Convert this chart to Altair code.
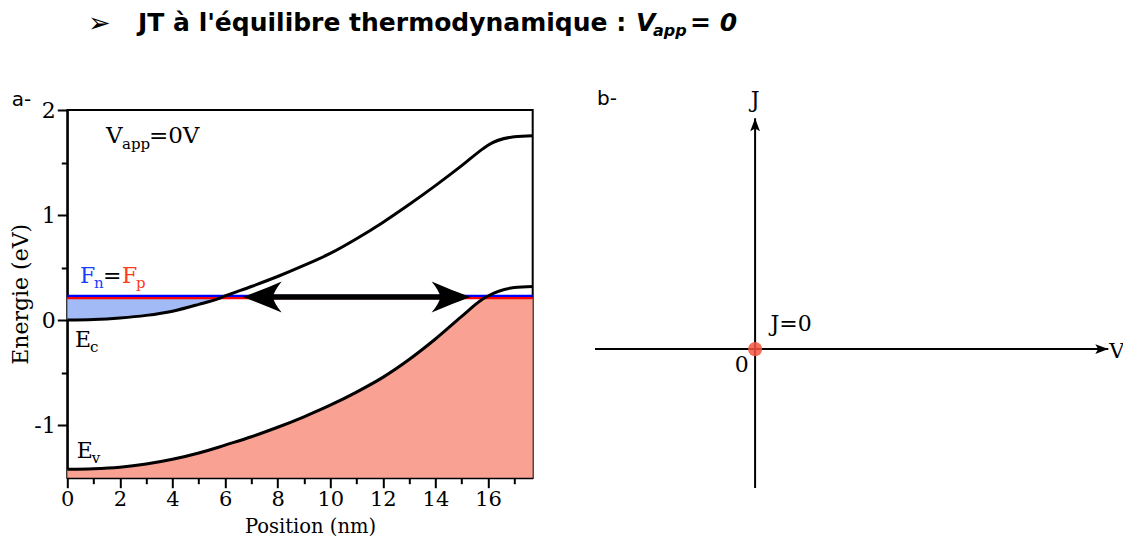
import altair as alt
import pandas as pd

# ---------------- data: panel a (band diagram) ----------------
position_nm = [0, 1, 2, 3, 4, 5, 5.75, 6, 7, 8, 9, 10, 11, 12, 13, 14, 15, 15.8, 16, 17, 17.7]
ec_eV = [0, 0.005, 0.02, 0.045, 0.085, 0.15, 0.205, 0.23, 0.32, 0.415, 0.52, 0.635,
         0.775, 0.93, 1.1, 1.28, 1.47, 1.63, 1.665, 1.745, 1.755]
ev_eV = [-1.42, -1.415, -1.40, -1.37, -1.325, -1.265, -1.21, -1.19, -1.11, -1.02, -0.92,
         -0.81, -0.685, -0.545, -0.375, -0.18, 0.035, 0.2, 0.23, 0.31, 0.32]
fn_eV = 0.23
fp_eV = 0.21
fermi_x = [0, 17.7]
arrow_tips_nm = [6.67, 15.34]
arrow_level_eV = 0.22

x_domain = [0, 17.7]
y_domain = [-1.5, 2]
x_ticks = [0, 2, 4, 6, 8, 10, 12, 14, 16]
x_minor = [1, 3, 5, 7, 9, 11, 13, 15, 17]
y_ticks = [-1, 0, 1, 2]
y_minor = [-0.5, 0.5, 1.5]

# ---------------- data: panel b (J-V axes) ----------------
v_axis = [-1.6, 3.53]
j_axis = [-1.39, 2.31]
op_v = [0]
op_j = [0]

# ---------------- texts ----------------
title_main = "JT à l'équilibre thermodynamique :"
title_v = "V"
title_sub = "app"
title_end = "= 0"
bullet = "➢"

SERIF = "DejaVu Serif"
SANS = "DejaVu Sans"
BLACK = "#000000"
SALMON = "#f9a293"
LIGHTBLUE = "#a2baf6"
BLUE = "#0000ff"
RED = "#ff0000"
BLUE_T = "#1a3cff"
RED_T = "#ff3a1a"

W, H = 465.4, 367.7
PAD_L, PAD_T = 59.3, 102
SVG_W, SVG_H = 1115, 529

XA = alt.Scale(domain=x_domain, nice=False, zero=False)
YA = alt.Scale(domain=y_domain, nice=False, zero=False)
AX = alt.Axis(values=x_ticks, title="Position (nm)", grid=False, labelFlush=False,
              tickSize=10, tickWidth=2, tickColor=BLACK, domainColor=BLACK, domainWidth=2,
              labelFont=SERIF, labelFontSize=21, labelColor=BLACK, labelPadding=1,
              titleFont=SERIF, titleFontSize=19.5, titleFontWeight="normal", titleColor=BLACK,
              titleX=242.7, titleY=54.5, titleBaseline="alphabetic", orient="bottom")
AY = alt.Axis(values=y_ticks, title="Energie (eV)", grid=False, labelFlush=False,
              tickSize=10, tickWidth=2, tickColor=BLACK, domainColor=BLACK, domainWidth=2,
              labelFont=SERIF, labelFontSize=22, labelColor=BLACK, labelPadding=2,
              labelExpr="'' + datum.value",
              titleFont=SERIF, titleFontSize=22, titleFontWeight="normal", titleColor=BLACK,
              titlePadding=1, orient="left")


def xa(field=None, datum=None):
    if field is not None:
        return alt.X(field, type="quantitative", scale=XA, axis=AX)
    return alt.X(datum=datum, type="quantitative", scale=XA, axis=AX)


def ya(field=None, datum=None):
    if field is not None:
        return alt.Y(field, type="quantitative", scale=YA, axis=AY)
    return alt.Y(datum=datum, type="quantitative", scale=YA, axis=AY)


band = pd.DataFrame({"x": position_nm, "ec": ec_eV, "ev": ev_eV})
fermi = pd.DataFrame({"x": fermi_x, "fn": [fn_eV] * len(fermi_x), "fp": [fp_eV] * len(fermi_x)})
shaft = pd.DataFrame({"x": [arrow_tips_nm[0] + 1.0, arrow_tips_nm[1] - 1.0],
                      "y": [arrow_level_eV, arrow_level_eV]})
tip_l = pd.DataFrame({"x": [arrow_tips_nm[0]], "y": [arrow_level_eV]})
tip_r = pd.DataFrame({"x": [arrow_tips_nm[1]], "y": [arrow_level_eV]})
one = pd.DataFrame({"k": [0]})

red_fill = alt.Chart(band).transform_calculate(
    top=f"min(datum.ev, {fp_eV})"
).mark_area(color=SALMON, interpolate="monotone").encode(
    x=xa("x"), y=ya("top"), y2=alt.Y2(datum=y_domain[0]))

blue_fill = alt.Chart(band).transform_calculate(
    top=f"max(datum.ec, {fp_eV})"
).mark_area(color=LIGHTBLUE, interpolate="monotone").encode(
    x=xa("x"), y=ya("ec"), y2="top:Q")

fp_line = alt.Chart(fermi).mark_line(color=RED, strokeWidth=2.2).encode(x=xa("x"), y=ya("fp"))
fn_line = alt.Chart(fermi).mark_line(color=BLUE, strokeWidth=2.2).encode(x=xa("x"), y=ya("fn"))
ec_line = alt.Chart(band).mark_line(color=BLACK, strokeWidth=3, interpolate="monotone").encode(
    x=xa("x"), y=ya("ec"))
ev_line = alt.Chart(band).mark_line(color=BLACK, strokeWidth=3, interpolate="monotone").encode(
    x=xa("x"), y=ya("ev"))

HEAD_L = "M0,0 Q1.0,-0.36 2,-0.8 Q1.6,-0.3 1.55,0 Q1.6,0.3 2,0.8 Q1.0,0.36 0,0 Z"
HEAD_R = "M0,0 Q-1.0,-0.36 -2,-0.8 Q-1.6,-0.3 -1.55,0 Q-1.6,0.3 -2,0.8 Q-1.0,0.36 0,0 Z"

shaft_line = alt.Chart(shaft).mark_line(color=BLACK, strokeWidth=5.5).encode(x=xa("x"), y=ya("y"))
head_l = alt.Chart(tip_l).mark_point(shape=HEAD_L, size=1521, filled=True, color=BLACK,
                                     opacity=1, strokeWidth=0).encode(x=xa("x"), y=ya("y"))
head_r = alt.Chart(tip_r).mark_point(shape=HEAD_R, size=1521, filled=True, color=BLACK,
                                     opacity=1, strokeWidth=0).encode(x=xa("x"), y=ya("y"))


def txt_a(text, x, y, size=22, color=BLACK, dx=0, dy=0, font=SERIF, align="left"):
    return alt.Chart(one).mark_text(text=text, font=font, fontSize=size, color=color,
                                    align=align, baseline="alphabetic", dx=dx, dy=dy).encode(
        x=xa(datum=x), y=ya(datum=y))


texts_a = [
    txt_a("a-", -2.11, 2.04, size=20, font=SANS),
    txt_a("V", 1.47, 1.683, size=23),
    txt_a("app", 1.47, 1.683, size=15, dx=16, dy=6),
    txt_a("=0V", 1.47, 1.683, size=23, dx=43),
    txt_a("F", 0.48, 0.349, color=BLUE_T),
    txt_a("n", 0.48, 0.349, size=15, color=BLUE_T, dx=14, dy=5),
    txt_a("=", 0.48, 0.349, dx=23),
    txt_a("F", 0.48, 0.349, color=RED_T, dx=42),
    txt_a("p", 0.48, 0.349, size=15, color=RED_T, dx=56, dy=5),
    txt_a("E", 0.29, -0.254),
    txt_a("c", 0.29, -0.254, size=15, dx=15, dy=5),
    txt_a("E", 0.36, -1.317),
    txt_a("v", 0.36, -1.317, size=15, dx=15, dy=5),
]

panel_a = alt.layer(red_fill, blue_fill, fp_line, fn_line, ec_line, ev_line,
                    shaft_line, head_l, head_r, *texts_a)

# minor ticks on the same mapping
minor = alt.Chart(pd.DataFrame({"x": x_domain, "y": y_domain})).mark_point(opacity=0).encode(
    x=alt.X("x:Q", scale=XA, axis=alt.Axis(values=x_minor, labels=False, domain=False, grid=False,
                                           tickSize=6, tickWidth=2, tickColor=BLACK, title=None,
                                           orient="bottom")),
    y=alt.Y("y:Q", scale=YA, axis=alt.Axis(values=y_minor, labels=False, domain=False, grid=False,
                                           tickSize=6, tickWidth=2, tickColor=BLACK, title=None,
                                           orient="left")))

# ---------------- panel b ----------------
XB = alt.Scale(domain=v_axis, range=[527.7, 1041], nice=False, zero=False)
YB = alt.Scale(domain=j_axis, range=[378, 8.3], nice=False, zero=False)


def xb(field=None, datum=None):
    if field is not None:
        return alt.X(field, type="quantitative", scale=XB, axis=None)
    return alt.X(datum=datum, type="quantitative", scale=XB, axis=None)


def yb(field=None, datum=None):
    if field is not None:
        return alt.Y(field, type="quantitative", scale=YB, axis=None)
    return alt.Y(datum=datum, type="quantitative", scale=YB, axis=None)


h_axis = pd.DataFrame({"v": v_axis, "j": [0, 0]})
v_line = pd.DataFrame({"v": [0, 0], "j": j_axis})
op = pd.DataFrame({"v": op_v, "j": op_j})

HEAD_RIGHT = "M0,0 L-2,-0.75 L-1.55,0 L-2,0.75 Z"
HEAD_UP = "M0,0 L-0.75,2 L0,1.55 L0.75,2 Z"

hb = alt.Chart(h_axis).mark_line(color=BLACK, strokeWidth=2).encode(x=xb("v"), y=yb("j"))
vb = alt.Chart(v_line).mark_line(color=BLACK, strokeWidth=2).encode(x=xb("v"), y=yb("j"))
h_head = alt.Chart(pd.DataFrame({"v": [v_axis[1]], "j": [0]})).mark_point(
    shape=HEAD_RIGHT, size=169, filled=True, color=BLACK, opacity=1, strokeWidth=0).encode(
    x=xb("v"), y=yb("j"))
v_head = alt.Chart(pd.DataFrame({"v": [0], "j": [j_axis[1]]})).mark_point(
    shape=HEAD_UP, size=169, filled=True, color=BLACK, opacity=1, strokeWidth=0).encode(
    x=xb("v"), y=yb("j"))
dot = alt.Chart(op).mark_circle(size=201, color="#f4553f", opacity=0.85).encode(
    x=xb("v"), y=yb("j"))


def txt_b(text, x, y, size=22, align="left", font=SERIF):
    return alt.Chart(one).mark_text(text=text, font=font, fontSize=size, color=BLACK,
                                    align=align, baseline="alphabetic").encode(
        x=xb(datum=x), y=yb(datum=y))


texts_b = [
    txt_b("b-", -1.58, 2.44, size=20, font=SANS),
    txt_b("J", 0.0, 2.42, align="center"),
    txt_b("V", 3.54, -0.087, size=21),
    txt_b("0", -0.133, -0.234, align="center"),
    txt_b("J=0", 0.154, 0.183),
]

panel_b = alt.layer(hb, vb, h_head, v_head, dot, *texts_b)


# ---------------- heading ----------------
def txt_t(text, x, y, size=25, style="normal", weight="bold", font=SANS, baseline="alphabetic"):
    return alt.Chart(one).mark_text(text=text, font=font, fontSize=size, fontWeight=weight,
                                    fontStyle=style, color=BLACK, align="left",
                                    baseline=baseline).encode(x=alt.value(x), y=alt.value(y))


heading = alt.layer(
    txt_t(bullet, 20.7, -86, size=27, weight="normal", baseline="middle"),
    txt_t(title_main, 70.7, -79),
    txt_t(title_v, 568.7, -79, style="italic"),
    txt_t(title_sub, 585.7, -74, size=16, style="italic"),
    txt_t(title_end, 622.7, -79, style="italic"),
)

chart = alt.layer(panel_a, minor, panel_b, heading).resolve_scale(
    x="independent", y="independent"
).properties(
    width=W, height=H,
    autosize=alt.AutoSizeParams(type="none"),
    padding={"left": PAD_L, "top": PAD_T, "right": SVG_W - PAD_L - W, "bottom": SVG_H - PAD_T - H},
).configure_view(stroke=BLACK, strokeWidth=2)

chart.save("out.html", embed_options={"renderer": "svg", "actions": False})
